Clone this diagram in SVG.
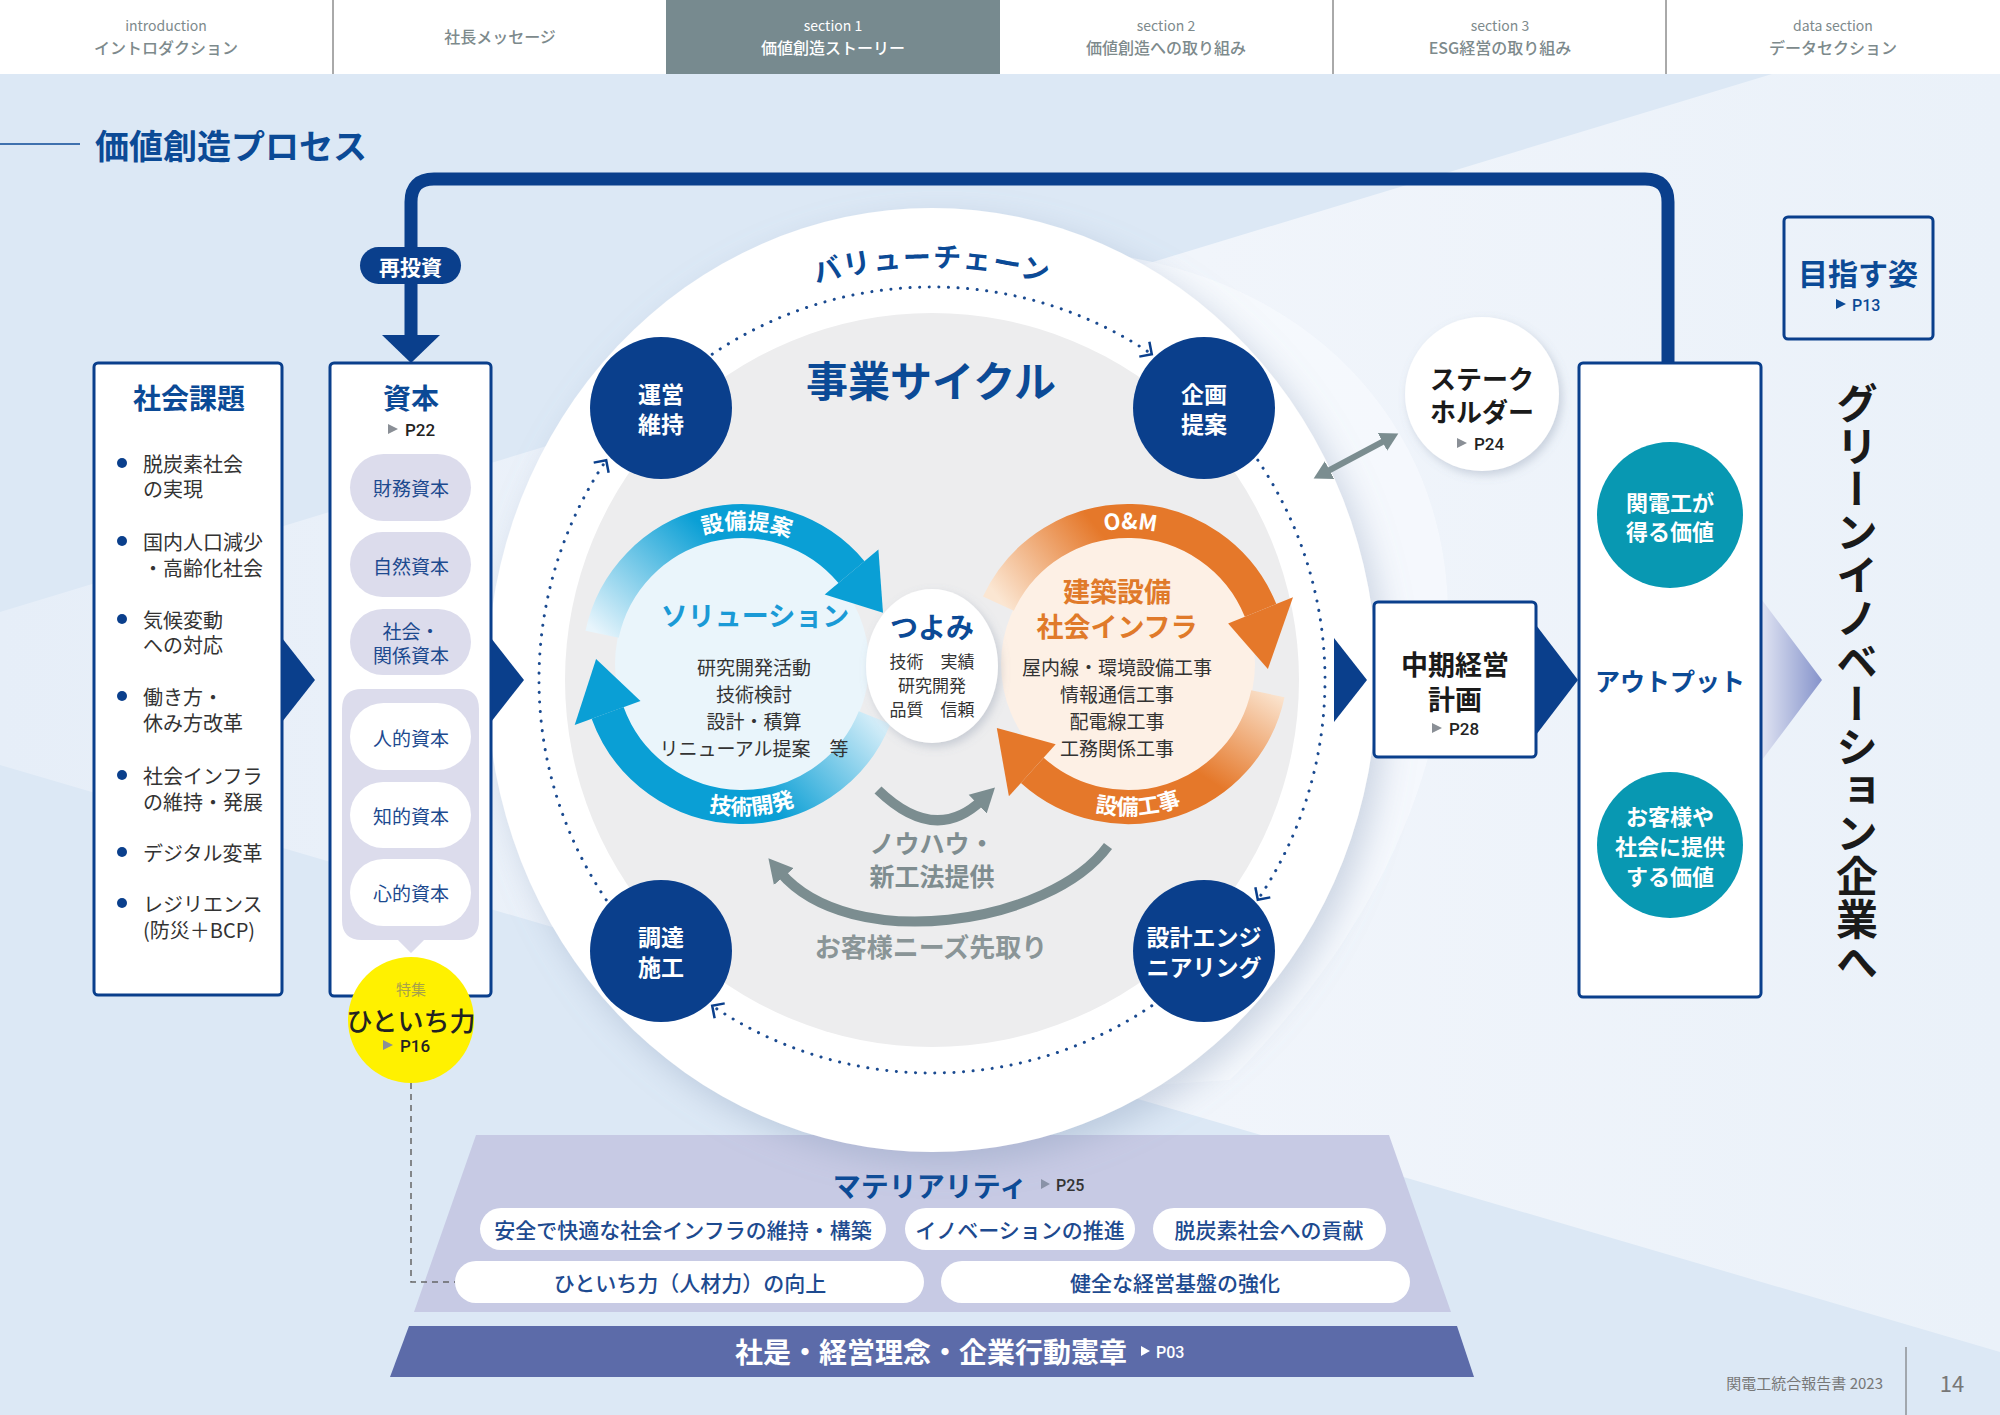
<svg xmlns="http://www.w3.org/2000/svg" width="2000" height="1415" viewBox="0 0 2000 1415">
<defs>
<style>
text{font-family:"Noto Sans CJK JP","Noto Sans",sans-serif;}
.b{font-weight:700}
.m{font-weight:500}
.c{text-anchor:middle;dominant-baseline:central}
.l{dominant-baseline:central}
.nav1{font-size:14px;fill:#7d8a8c}
.nav2{font-size:16px;fill:#7d8a8c;font-weight:500}
.navA{fill:#ffffff}
.box{fill:#ffffff;stroke:#0a3f8c;stroke-width:3}
.item{font-size:20px;fill:#333333}
.cap{font-size:19px;fill:#1d4a8f}
.pillG{fill:#dcdcec}
.pillW{fill:#ffffff}
.node{fill:#0a3f8c}
.nodeT{font-size:23px;fill:#ffffff;font-weight:700}
.chev{fill:#0a3f8c}
.pg{font-family:"Roboto","Noto Sans",sans-serif;font-weight:500}
.inner{font-size:19px;fill:#333333}
.mat{font-size:21px;fill:#1d4a8f;font-weight:500}
.teal{fill:#0898b2}
.tealT{font-size:22px;fill:#ffffff;font-weight:700}
.dot{fill:none;stroke:#1a4a90;stroke-width:3;stroke-linecap:round;stroke-dasharray:0.1 9.5}
.grey{fill:none;stroke:#7b8d90;stroke-width:10}
</style>
<filter id="bigsh" x="-20%" y="-20%" width="140%" height="140%">
<feDropShadow dx="10" dy="12" stdDeviation="16" flood-color="#7f93b3" flood-opacity="0.35"/>
</filter>
<filter id="sm" x="-30%" y="-30%" width="160%" height="160%">
<feDropShadow dx="3" dy="4" stdDeviation="5" flood-color="#6d7f99" flood-opacity="0.3"/>
</filter>
<linearGradient id="beam" x1="0" y1="0" x2="1" y2="0">
<stop offset="0" stop-color="#e6eef8"/>
<stop offset="0.6" stop-color="#f1f5fb"/>
<stop offset="1" stop-color="#eaf1f9"/>
</linearGradient>
<linearGradient id="bTop" gradientUnits="userSpaceOnUse" x1="605" y1="640" x2="705" y2="528">
<stop offset="0" stop-color="#e8f5fc"/>
<stop offset="1" stop-color="#0a9fd5"/>
</linearGradient>
<linearGradient id="bBot" gradientUnits="userSpaceOnUse" x1="880" y1="705" x2="770" y2="805">
<stop offset="0" stop-color="#e8f5fc"/>
<stop offset="1" stop-color="#0a9fd5"/>
</linearGradient>
<linearGradient id="oTop" gradientUnits="userSpaceOnUse" x1="1000" y1="600" x2="1095" y2="525">
<stop offset="0" stop-color="#fbe6d2"/>
<stop offset="1" stop-color="#e5782a"/>
</linearGradient>
<linearGradient id="oBot" gradientUnits="userSpaceOnUse" x1="1272" y1="688" x2="1212" y2="782">
<stop offset="0" stop-color="#fbe6d2"/>
<stop offset="1" stop-color="#e5782a"/>
</linearGradient>
<linearGradient id="outArrow" x1="0" y1="0" x2="1" y2="0">
<stop offset="0" stop-color="#dfe3f2"/>
<stop offset="1" stop-color="#8593cb"/>
</linearGradient>
<marker id="gh" markerUnits="userSpaceOnUse" viewBox="0 -14 26 28" markerWidth="26" markerHeight="28" refX="6" refY="0" orient="auto">
<path d="M0,-13 L24,0 L0,13 Z" fill="#7b8d90"/>
</marker>
<marker id="dh" markerUnits="userSpaceOnUse" viewBox="0 -11 20 22" markerWidth="20" markerHeight="22" refX="4" refY="0" orient="auto-start-reverse">
<path d="M0,-10 L18,0 L0,10 Z" fill="#7b8d90"/>
</marker>
<marker id="ch" markerUnits="userSpaceOnUse" viewBox="-12 -12 24 24" markerWidth="24" markerHeight="24" refX="0" refY="0" orient="auto">
<path d="M-9,-9 L0,0 L-9,9" fill="none" stroke="#0a3f8c" stroke-width="2.5"/>
</marker>
<path id="tpVC" d="M666.5,363.6 A413,413 0 0 1 1197.5,363.6"/>
<path id="tpB1" d="M641.7,573.7 A135,135 0 0 1 848.4,580.9"/>
<path id="tpB2" d="M633.4,768.9 A151,151 0 0 0 864.2,752.8"/>
<path id="tpO1" d="M1026.1,575.4 A135,135 0 0 1 1232.9,579.0"/>
<path id="tpO2" d="M1019.4,768.9 A151,151 0 0 0 1250.2,752.8"/>
</defs>

<!-- background -->
<rect x="0" y="0" width="2000" height="1415" fill="#dce8f5"/>
<polygon points="0,612 1772,74 2000,74 2000,1352 0,765" fill="url(#beam)"/>
<path d="M1060,250 C1300,260 1450,420 1448,620 C1446,790 1360,950 1230,1080 L930,1100 Z" fill="#f7f9fd" opacity="0.75"/>

<!-- top navigation -->
<g id="nav">
<rect x="0" y="0" width="2000" height="74" fill="#ffffff"/>
<rect x="666" y="0" width="334" height="74" fill="#778a8f"/>
<line x1="333" y1="0" x2="333" y2="74" stroke="#555" stroke-width="1"/>
<line x1="1333" y1="0" x2="1333" y2="74" stroke="#555" stroke-width="1"/>
<line x1="1666" y1="0" x2="1666" y2="74" stroke="#555" stroke-width="1"/>
<text class="c nav1" x="166" y="25">introduction</text>
<text class="c nav2" x="166" y="47">イントロダクション</text>
<text class="c nav2" x="500" y="36">社長メッセージ</text>
<text class="c nav1 navA" x="833" y="25">section 1</text>
<text class="c nav2 navA" x="833" y="47">価値創造ストーリー</text>
<text class="c nav1" x="1166" y="25">section 2</text>
<text class="c nav2" x="1166" y="47">価値創造への取り組み</text>
<text class="c nav1" x="1500" y="25">section 3</text>
<text class="c nav2" x="1500" y="47">ESG経営の取り組み</text>
<text class="c nav1" x="1833" y="25">data section</text>
<text class="c nav2" x="1833" y="47">データセクション</text>
</g>

<!-- page title -->
<g id="title">
<line x1="0" y1="144" x2="80" y2="144" stroke="#0b4a96" stroke-width="1.5"/>
<text class="l b" x="95" y="144" font-size="34" fill="#0b4a96">価値創造プロセス</text>
</g>

<!-- materiality & base (behind circle) -->
<g id="materiality">
<polygon points="476,1135 1389,1135 1451,1312 414,1312" fill="#c7cae4"/>
<text class="c b" x="930" y="1185" font-size="28" fill="#0b4a96">マテリアリティ</text>
<polygon points="1041,1179 1050,1184 1041,1189" fill="#8a93a8"/>
<text class="l pg" x="1056" y="1185" font-size="16" fill="#333">P25</text>
<rect x="480" y="1208" width="406" height="42" rx="21" fill="#fff"/>
<text class="c mat" x="683" y="1229">安全で快適な社会インフラの維持・構築</text>
<rect x="905" y="1208" width="230" height="42" rx="21" fill="#fff"/>
<text class="c mat" x="1020" y="1229">イノベーションの推進</text>
<rect x="1153" y="1208" width="233" height="42" rx="21" fill="#fff"/>
<text class="c mat" x="1269" y="1229">脱炭素社会への貢献</text>
<rect x="455" y="1261" width="469" height="42" rx="21" fill="#fff"/>
<text class="c mat" x="690" y="1282">ひといち力（人材力）の向上</text>
<rect x="941" y="1261" width="469" height="42" rx="21" fill="#fff"/>
<text class="c mat" x="1175" y="1282">健全な経営基盤の強化</text>
</g>
<g id="philosophy">
<polygon points="409,1326 1457,1326 1474,1377 390,1377" fill="#5c6ba9"/>
<text class="c b" x="931" y="1351" font-size="28" fill="#fff">社是・経営理念・企業行動憲章</text>
<polygon points="1141,1346 1150,1351 1141,1356" fill="#fff"/>
<text class="l pg" x="1156" y="1352" font-size="16" fill="#fff">P03</text>
</g>

<!-- big circle -->
<g id="value-chain-circle">
<ellipse cx="932" cy="680" rx="445" ry="472" fill="#ffffff" filter="url(#bigsh)"/>
<circle cx="932" cy="680" r="367" fill="#ededee"/>
<text font-size="28" class="b" fill="#0b4a96" letter-spacing="1.5"><textPath href="#tpVC" startOffset="50%" text-anchor="middle">バリューチェーン</textPath></text>
<text class="c b" x="931" y="378" font-size="42" fill="#0b4a96">事業サイクル</text>
</g>

<!-- connectors -->
<g id="connectors">
<path d="M411,338 L411,202 Q411,179 434,179 L1645,179 Q1668,179 1668,202 L1668,363" fill="none" stroke="#0a3f8c" stroke-width="13"/>
<polygon points="382,335 440,335 411,363" fill="#0a3f8c"/>
<polygon class="chev" points="282,638 315,680 282,722"/>
<polygon class="chev" points="491,638 524,680 491,722"/>
<polygon class="chev" points="1334,638 1367,680 1334,722"/>
<polygon class="chev" points="1536,625 1578,680 1536,735"/>
<polygon points="1762,600 1822,680 1762,760" fill="url(#outArrow)"/>
<path class="dot" d="M712.2,354.2 A393,393 0 0 1 1151.8,354.2" marker-end="url(#ch)"/>
<path class="dot" d="M1257.8,460.2 A393,393 0 0 1 1257.8,899.8" marker-end="url(#ch)"/>
<path class="dot" d="M1151.8,1005.8 A393,393 0 0 1 712.2,1005.8" marker-end="url(#ch)"/>
<path class="dot" d="M606.2,899.8 A393,393 0 0 1 606.2,460.2" marker-end="url(#ch)"/>
<line x1="1326" y1="472" x2="1386" y2="440" stroke="#7b8d90" stroke-width="6" marker-start="url(#dh)" marker-end="url(#dh)"/>
<path class="grey" d="M878,790 Q935,845 982,800" marker-end="url(#gh)"/>
<path class="grey" d="M1108,846 C1050,925 850,955 780,872" marker-end="url(#gh)"/>
<path d="M411,1083 L411,1282 L455,1282" fill="none" stroke="#666" stroke-width="1.5" stroke-dasharray="6 5"/>
</g>

<!-- reinvestment label -->
<g id="reinvest">
<rect x="360" y="247" width="101" height="37" rx="18.5" fill="#0a3f8c"/>
<text class="c b" x="410.5" y="265.5" font-size="21" fill="#fff">再投資</text>
</g>

<!-- social issues -->
<g id="social-issues">
<rect class="box" x="94" y="363" width="188" height="632" rx="4"/>
<text class="c b" x="189" y="397" font-size="28" fill="#0b4a96">社会課題</text>
<g fill="#0a3f8c">
<circle cx="122" cy="463" r="5"/><circle cx="122" cy="541" r="5"/><circle cx="122" cy="619" r="5"/>
<circle cx="122" cy="696" r="5"/><circle cx="122" cy="775" r="5"/><circle cx="122" cy="852" r="5"/>
<circle cx="122" cy="903" r="5"/>
</g>
<text class="l item" x="143" y="463">脱炭素社会</text>
<text class="l item" x="143" y="488">の実現</text>
<text class="l item" x="143" y="541">国内人口減少</text>
<text class="l item" x="143" y="567">・高齢化社会</text>
<text class="l item" x="143" y="619">気候変動</text>
<text class="l item" x="143" y="644">への対応</text>
<text class="l item" x="143" y="696">働き方・</text>
<text class="l item" x="143" y="722">休み方改革</text>
<text class="l item" x="143" y="775">社会インフラ</text>
<text class="l item" x="143" y="801">の維持・発展</text>
<text class="l item" x="143" y="852">デジタル変革</text>
<text class="l item" x="143" y="903">レジリエンス</text>
<text class="l item" x="143" y="929">(防災＋BCP)</text>
</g>

<!-- capital -->
<g id="capital">
<rect class="box" x="330" y="363" width="161" height="633" rx="4"/>
<text class="c b" x="411" y="397" font-size="28" fill="#0b4a96">資本</text>
<polygon points="388,424 398,429 388,434" fill="#8a8f96"/>
<text class="l pg" x="405" y="430" font-size="17" fill="#222">P22</text>
<rect class="pillG" x="350" y="454" width="121" height="67" rx="33.5"/>
<text class="c cap" x="411" y="487">財務資本</text>
<rect class="pillG" x="350" y="532" width="121" height="65" rx="32.5"/>
<text class="c cap" x="411" y="565">自然資本</text>
<rect class="pillG" x="350" y="609" width="121" height="66" rx="33"/>
<text class="c cap" x="411" y="630">社会・</text>
<text class="c cap" x="411" y="654">関係資本</text>
<path d="M362,689 L459,689 Q479,689 479,709 L479,920 Q479,940 459,940 L424,940 L411,953 L398,940 L362,940 Q342,940 342,920 L342,709 Q342,689 362,689 Z" fill="#dcdcec"/>
<rect class="pillW" x="350" y="703" width="121" height="67" rx="33.5"/>
<text class="c cap" x="411" y="737">人的資本</text>
<rect class="pillW" x="350" y="782" width="121" height="66" rx="33"/>
<text class="c cap" x="411" y="815">知的資本</text>
<rect class="pillW" x="350" y="859" width="121" height="67" rx="33.5"/>
<text class="c cap" x="411" y="892">心的資本</text>
</g>

<!-- special feature -->
<g id="hitoichi">
<circle cx="411" cy="1020" r="63" fill="#fff100"/>
<text class="c" x="411" y="988" font-size="15" fill="#a7a14a">特集</text>
<text class="c m" x="411" y="1019" font-size="26" fill="#222">ひといち力</text>
<polygon points="383,1040 393,1045 383,1050" fill="#8a8f96"/>
<text class="l pg b" x="400" y="1046" font-size="17" fill="#222">P16</text>
</g>

<!-- value chain nodes -->
<g id="node-unei">
<circle class="node" cx="661" cy="408" r="71"/>
<text class="c nodeT" x="661" y="393">運営</text>
<text class="c nodeT" x="661" y="423">維持</text>
</g>
<g id="node-kikaku">
<circle class="node" cx="1204" cy="408" r="71"/>
<text class="c nodeT" x="1204" y="393">企画</text>
<text class="c nodeT" x="1204" y="423">提案</text>
</g>
<g id="node-chotatsu">
<circle class="node" cx="661" cy="951" r="71"/>
<text class="c nodeT" x="661" y="936">調達</text>
<text class="c nodeT" x="661" y="966">施工</text>
</g>
<g id="node-sekkei">
<circle class="node" cx="1204" cy="951" r="71"/>
<text class="c nodeT" x="1204" y="936">設計エンジ</text>
<text class="c nodeT" x="1204" y="966">ニアリング</text>
</g>

<!-- solution cycle -->
<g id="solution">
<circle cx="742" cy="664" r="127" fill="#eaf5fb"/>
<path d="M602.1,634.3 A143,143 0 0 1 851.5,572.1" fill="none" stroke="url(#bTop)" stroke-width="34"/>
<polygon points="824.7,594.6 878.4,549.6 883,612.7" fill="#0a9fd5"/>
<path d="M874.6,717.6 A143,143 0 0 1 607.6,712.9" fill="none" stroke="url(#bBot)" stroke-width="34"/>
<polygon points="640.5,700.9 574.7,724.9 596.1,658.9" fill="#0a9fd5"/>
<text class="b" font-size="22" fill="#fff"><textPath href="#tpB1" startOffset="50%" text-anchor="middle">設備提案</textPath></text>
<text class="b" font-size="22" fill="#fff"><textPath href="#tpB2" startOffset="50%" text-anchor="middle">技術開発</textPath></text>
<text class="c b" x="755" y="614" font-size="27" fill="#1a9ad6">ソリューション</text>
<text class="c inner" x="754" y="666">研究開発活動</text>
<text class="c inner" x="754" y="693">技術検討</text>
<text class="c inner" x="754" y="720">設計・積算</text>
<text class="c inner" x="754" y="747">リニューアル提案　等</text>
</g>

<!-- construction cycle -->
<g id="infrastructure">
<circle cx="1128" cy="664" r="127" fill="#fdf0e5"/>
<path d="M998.4,603.6 A143,143 0 0 1 1260.6,610.4" fill="none" stroke="url(#oTop)" stroke-width="34"/>
<polygon points="1228.1,623.5 1293,597.3 1267.9,668.9" fill="#e5782a"/>
<path d="M1267.9,693.7 A143,143 0 0 1 1032.3,770.3" fill="none" stroke="url(#oBot)" stroke-width="34"/>
<polygon points="1055.7,744.3 1008.9,796.3 996.8,728" fill="#e5782a"/>
<text class="b" font-size="22" fill="#fff"><textPath href="#tpO1" startOffset="50%" text-anchor="middle">O&amp;M</textPath></text>
<text class="b" font-size="22" fill="#fff"><textPath href="#tpO2" startOffset="50%" text-anchor="middle">設備工事</textPath></text>
<text class="c b" x="1117" y="590" font-size="27" fill="#e07a2a">建築設備</text>
<text class="c b" x="1117" y="625" font-size="27" fill="#e07a2a">社会インフラ</text>
<text class="c inner" x="1117" y="666">屋内線・環境設備工事</text>
<text class="c inner" x="1117" y="693">情報通信工事</text>
<text class="c inner" x="1117" y="720">配電線工事</text>
<text class="c inner" x="1117" y="747">工務関係工事</text>
</g>

<!-- strengths -->
<g id="strengths">
<ellipse cx="932" cy="666" rx="66" ry="77" fill="#fff" filter="url(#sm)"/>
<text class="c b" x="932" y="626" font-size="28" fill="#0b4a96">つよみ</text>
<text class="c" x="932" y="660" font-size="17" fill="#333">技術　実績</text>
<text class="c" x="932" y="684" font-size="17" fill="#333">研究開発</text>
<text class="c" x="932" y="708" font-size="17" fill="#333">品質　信頼</text>
</g>

<g id="knowhow">
<text class="c b" x="932" y="842" font-size="25" fill="#7f8d90">ノウハウ・</text>
<text class="c b" x="932" y="875" font-size="25" fill="#7f8d90">新工法提供</text>
<text class="c b" x="931" y="945" font-size="26" fill="#8a9597">お客様ニーズ先取り</text>
</g>

<!-- stakeholder -->
<g id="stakeholder">
<circle cx="1482" cy="394" r="77" fill="#fff" filter="url(#sm)"/>
<text class="c b" x="1482" y="377" font-size="26" fill="#1a1a1a">ステーク</text>
<text class="c b" x="1482" y="410" font-size="26" fill="#1a1a1a">ホルダー</text>
<polygon points="1457,438 1467,443 1457,448" fill="#8a8f96"/>
<text class="l pg" x="1474" y="444" font-size="17" fill="#222">P24</text>
</g>

<!-- mid-term plan -->
<g id="midterm-plan">
<rect class="box" x="1374" y="602" width="162" height="155" rx="4"/>
<text class="c b" x="1455" y="663" font-size="27" fill="#1a1a1a">中期経営</text>
<text class="c b" x="1455" y="698" font-size="27" fill="#1a1a1a">計画</text>
<polygon points="1432,723 1442,728 1432,733" fill="#8a8f96"/>
<text class="l pg" x="1449" y="729" font-size="17" fill="#222">P28</text>
</g>

<!-- output -->
<g id="output">
<rect class="box" x="1579" y="363" width="182" height="634" rx="4"/>
<circle class="teal" cx="1670" cy="515" r="73"/>
<text class="c tealT" x="1670" y="501">関電工が</text>
<text class="c tealT" x="1670" y="530">得る価値</text>
<text class="c b" x="1670" y="680" font-size="25" fill="#0b4a96">アウトプット</text>
<circle class="teal" cx="1670" cy="845" r="73"/>
<text class="c tealT" x="1670" y="815">お客様や</text>
<text class="c tealT" x="1670" y="845">社会に提供</text>
<text class="c tealT" x="1670" y="875">する価値</text>
</g>

<!-- goal -->
<g id="goal">
<rect x="1784" y="217" width="149" height="122" rx="4" fill="none" stroke="#0a3f8c" stroke-width="3"/>
<text class="c b" x="1858" y="272" font-size="30" fill="#0b4a96">目指す姿</text>
<polygon points="1836,299 1846,304 1836,309" fill="#0b4a96"/>
<text class="l pg" x="1852" y="305" font-size="16" fill="#0b4a96">P13</text>
</g>
<g id="vision">
<text x="1857" y="382" font-size="42" class="b" fill="#1a1a1a" style="writing-mode:vertical-rl" letter-spacing="1">グリーンイノベーション企業へ</text>
</g>

<!-- footer -->
<g id="footer">
<text x="1883" y="1382" font-size="15" fill="#777" text-anchor="end" dominant-baseline="central">関電工統合報告書 2023</text>
<line x1="1906" y1="1347" x2="1906" y2="1415" stroke="#666" stroke-width="1"/>
<text class="c" x="1952" y="1382" font-size="22" fill="#777">14</text>
</g>
</svg>
